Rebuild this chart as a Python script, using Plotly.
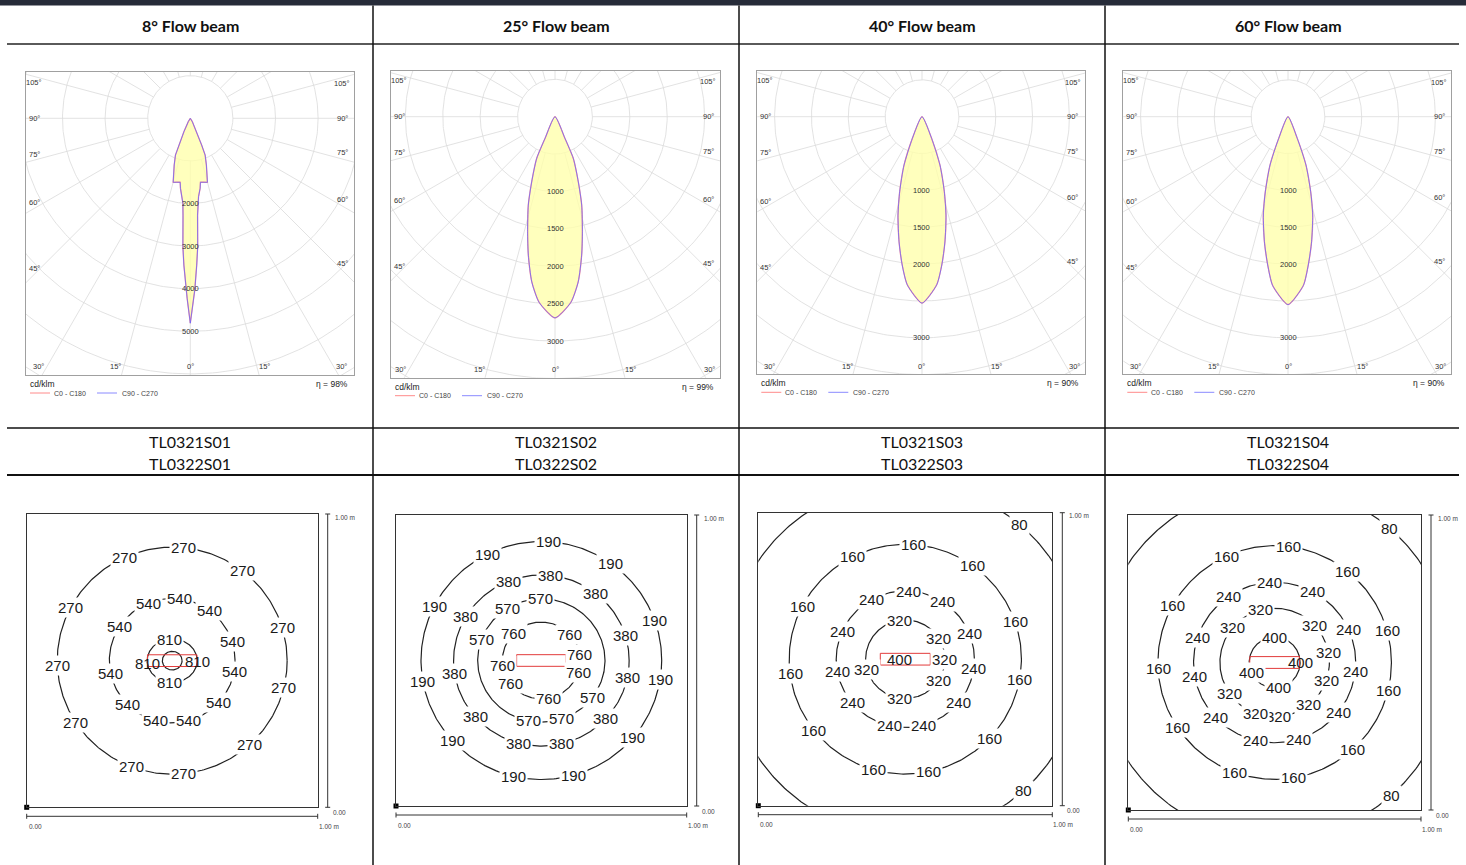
import numpy as np
import plotly.graph_objects as go

W, H = 1466, 865

# ---------------- data ----------------
HEADERS = ["8° Flow beam", "25° Flow beam", "40° Flow beam", "60° Flow beam"]
MODELS_TOP = ["TL0321S01", "TL0321S02", "TL0321S03", "TL0321S04"]
MODELS_BOTTOM = ["TL0322S01", "TL0322S02", "TL0322S03", "TL0322S04"]
ETA_TEXT = ["η = 98%", "η = 99%", "η = 90%", "η = 90%"]
UNIT_TEXT = "cd/klm"
LEGEND_C0 = "C0 - C180"
LEGEND_C90 = "C90 - C270"

# luminous intensity curves: gamma angle (deg) -> cd/klm (C0-C180 and C90-C270 identical)
GAMMA_1 = [0, 1, 1.5, 2.5, 3.3, 4.3, 5, 6, 8, 9, 12, 15, 19, 22, 23, 25.4, 31, 33]
CDKLM_1 = [4810, 4230, 4030, 3450, 3020, 2280, 2000, 1850, 1660, 1520, 1535, 1555, 1160, 930, 680, 346, 91, 0]
GAMMA_2 = [0, 4.9, 8, 10.9, 13.4, 16.8, 19.7, 23.7, 24.7, 25.5]
CDKLM_2 = [2690, 2490, 2230, 1885, 1580, 1235, 925, 610, 320, 0]
GAMMA_3 = [0, 5, 7.6, 10.4, 13.7, 16.6, 20.4, 24, 25.5]
CDKLM_3 = [2530, 2290, 2030, 1725, 1375, 1060, 700, 320, 0]
GAMMA_4 = [0, 5.2, 7.8, 10.7, 14.1, 16.8, 20.4, 23.2, 25]
CDKLM_4 = [2550, 2300, 2030, 1725, 1375, 1065, 700, 320, 0]
POLAR_GAMMA = [GAMMA_1, GAMMA_2, GAMMA_3, GAMMA_4]
POLAR_CD = [CDKLM_1, CDKLM_2, CDKLM_3, CDKLM_4]
RING_STEP = [1000, 500, 500, 500]
RING_LABELS = [[2000, 3000, 4000, 5000],
               [1000, 1500, 2000, 2500, 3000],
               [1000, 1500, 2000, 3000],
               [1000, 1500, 2000, 3000]]
SIDE_ANGLES = [105, 90, 75, 60, 45]
BOTTOM_ANGLES = [-30, -15, 0, 15, 30]

# isolux diagrams (1 m x 1 m): level, half-widths (m), label angles (deg)
ISO_LEVELS_1 = [270, 540, 810, 1080]
ISO_RX_1 = [0.395, 0.216, 0.086, 0.034]
ISO_RY_1 = [0.387, 0.212, 0.074, 0.032]
ISO_ANG_1 = [[114.5, 84.4, 52.4, 16.8, -13.5, -47.7, -84.4, -111, -147, -177.8, 151.8],
             [112, 83, 53.3, 17.7, -10.2, -42.4, -75.2, -105.7, -135.8, -168.2, 146.4],
             [96, -3, -171.5, -96],
             []]
ISO_LEVELS_2 = [190, 380, 570, 760]
ISO_RX_2 = [0.414, 0.302, 0.219, 0.134]
ISO_RY_2 = [0.409, 0.294, 0.212, 0.132]
ISO_ANG_2 = [[116.7, 86.6, 54.8, 19.6, -9.2, -40.6, -74.7, -103.5, -137.5, -169.8, 152.9],
             [112.3, 84.1, 51.6, 17.3, -11.2, -42.9, -76.6, -105.1, -138.9, -171.1, 149.2],
             [122.3, 91.2, 159.6, -37.2, -71.3, -101.8],
             [135.9, 43.5, 8.9, -18.5, -80.1, -143.4, -172.4]]
ISO_LEVELS_3 = [80, 160, 240, 320, 400]
ISO_RX_3 = [0.602, 0.395, 0.235, 0.135, 0.021]
ISO_RY_3 = [0.602, 0.392, 0.233, 0.134, 0.021]
ISO_ANG_3 = [[49.8, -48],
             [116.9, 86, 54.8, 19.1, -10.4, -43.6, -78.5, -106.1, -141.9, -173, 152.8],
             [119.6, 87.5, 57.7, 22.3, -7.7, -39.8, -74.9, -102.8, -140.4, -169.8, 156.1],
             [97.8, 32.3, -0.2, -32.3, -98, -165.3],
             [180]]
ISO_LEVELS_4 = [80, 160, 240, 320, 400]
ISO_RX_4 = [0.603, 0.399, 0.277, 0.187, 0.087]
ISO_RY_4 = [0.600, 0.396, 0.272, 0.184, 0.086]
ISO_ANG_4 = [[49.2, -48.5],
             [114.4, 83.3, 51.3, 15.7, -13.7, -48, -80.8, -110.3, -146.1, -177.2, 150.9],
             [125.1, 93.3, 62.4, 24.4, -6.5, -38.6, -73.2, -103.7, -137.2, -170.1, 161.7],
             [104.6, 139.6, 43.4, 10.4, -18.9, -51.3, -86.2, -110.2, -145],
             [90.7, 0.4, -156, -80.5]]
ISO_LEVELS = [ISO_LEVELS_1, ISO_LEVELS_2, ISO_LEVELS_3, ISO_LEVELS_4]
ISO_RX = [ISO_RX_1, ISO_RX_2, ISO_RX_3, ISO_RX_4]
ISO_RY = [ISO_RY_1, ISO_RY_2, ISO_RY_3, ISO_RY_4]
ISO_ANG = [ISO_ANG_1, ISO_ANG_2, ISO_ANG_3, ISO_ANG_4]
ISO_HIDDEN_RING = [(2, 4)]          # contour too small to be drawn (label only)
LUMINAIRE_W, LUMINAIRE_H = 0.17, 0.04
SCALE_START, SCALE_END = "0.00", "1.00 m"

# ---------------- layout (pixels) ----------------
COL_CENTERS = [190, 556, 922, 1288]
COL_LINES_X = [373, 739, 1105]
POLAR_BOX = [(26, 72, 354, 375), (391, 71, 720, 377.7), (757.3, 71, 1085, 374.3), (1123.3, 71, 1451, 374.3)]
POLAR_CENTER = [(190.3, 118.3), (555, 116.7), (922, 116.7), (1288, 116.7)]
POLAR_PX_PER_1000 = [42.6, 74.8, 73.7, 73.7]
ISO_BOX = [(26.7, 514, 317.7, 807.3), (396, 515, 686.7, 806), (758.3, 512.7, 1052.3, 805.7), (1128.3, 515, 1421, 810)]

FONT = "Liberation Sans, Arial, sans-serif"
HFONT = "Lato, Open Sans, sans-serif"


def px(xp):
    return xp / W


def py(yp):
    return 1 - yp / H


fig = go.Figure()
axes = {}
annotations = []
shapes = []


def axnames(k):
    s = '' if k == 1 else str(k)
    return 'x' + s, 'y' + s, 'xaxis' + s, 'yaxis' + s


def ann(**kw):
    base = dict(showarrow=False, xanchor='center', yanchor='middle')
    base.update(kw)
    annotations.append(base)


k = 0
# ---------- polar intensity diagrams ----------
for i in range(4):
    k += 1
    xr, yr, xa, ya = axnames(k)
    L, T, R, B = POLAR_BOX[i]
    cx, cy = POLAR_CENTER[i]
    s = POLAR_PX_PER_1000[i] / 1000.0
    x0, x1 = (L - cx) / s, (R - cx) / s
    y0, y1 = -(B - cy) / s, (cy - T) / s
    st = dict(showgrid=False, zeroline=False, showticklabels=False, ticks='', showline=True,
              mirror=True, linecolor='#a0a0a0', linewidth=1, fixedrange=True)
    axes[xa] = dict(domain=[px(L), px(R)], range=[x0, x1], anchor=yr, **st)
    axes[ya] = dict(domain=[py(B), py(T)], range=[y0, y1], anchor=xr, **st)

    step = RING_STEP[i]
    rmax = np.hypot(max(abs(x0), abs(x1)), max(abs(y0), abs(y1))) + step
    t = np.linspace(0, 2 * np.pi, 361)
    gx, gy = [], []
    for r in np.arange(step, rmax, step):
        gx += list(r * np.cos(t)) + [None]
        gy += list(r * np.sin(t)) + [None]
    for a in range(0, 360, 15):
        ar = np.radians(a)
        gx += [step * np.sin(ar), rmax * np.sin(ar), None]
        gy += [-step * np.cos(ar), -rmax * np.cos(ar), None]
    fig.add_trace(go.Scatter(x=gx, y=gy, mode='lines', line=dict(color='#dadada', width=0.8),
                             xaxis=xr, yaxis=yr, hoverinfo='skip', showlegend=False))

    g = np.array(POLAR_GAMMA[i], dtype=float)
    I = np.array(POLAR_CD[i], dtype=float)
    fg = np.concatenate([-g[::-1], g[1:]])
    fI = np.concatenate([I[::-1], I[1:]])
    cxs = fI * np.sin(np.radians(fg))
    cys = -fI * np.cos(np.radians(fg))
    shape = 'linear' if i == 0 else 'spline'
    fig.add_trace(go.Scatter(x=cxs, y=cys, mode='lines', fill='toself',
                             fillcolor='rgba(255,255,170,0.78)',
                             line=dict(color='#ff9a9a', width=1.3, shape=shape, smoothing=0.6),
                             xaxis=xr, yaxis=yr, hoverinfo='skip', showlegend=False))
    fig.add_trace(go.Scatter(x=cxs, y=cys, mode='lines',
                             line=dict(color='rgba(100,100,255,0.85)', width=0.9, shape=shape, smoothing=0.6),
                             xaxis=xr, yaxis=yr, hoverinfo='skip', showlegend=False))

    for v in RING_LABELS[i]:
        ann(x=0, y=-v, xref=xr, yref=yr, text=str(v), font=dict(family=FONT, size=7.5, color='#333'))

    inset_l = 8 / s
    inset_r = 12 / s
    for gam in SIDE_ANGLES:
        cot = np.cos(np.radians(gam)) / np.sin(np.radians(gam))
        ysh = 0 if gam == 90 else (-6 if gam > 90 else 6)
        xl = x0 + inset_l
        ann(x=xl, y=xl * cot, xref=xr, yref=yr, text=f"{gam}°", yshift=ysh,
            font=dict(family=FONT, size=7.5, color='#333'))
        xrt = x1 - inset_r
        ann(x=xrt, y=-xrt * cot, xref=xr, yref=yr, text=f"{gam}°", yshift=ysh,
            font=dict(family=FONT, size=7.5, color='#333'))
    yb = y0 + 8 / s
    for gam in BOTTOM_ANGLES:
        xb = -yb * np.tan(np.radians(gam))
        xsh = 0 if gam == 0 else (8 if gam > 0 else -8)
        ann(x=xb, y=yb, xref=xr, yref=yr, text=f"{abs(gam)}°", xshift=xsh,
            font=dict(family=FONT, size=7.5, color='#333'))

    # unit, efficiency, legend
    ann(x=px(L + 2), y=py(B + 9), xref='paper', yref='paper', xanchor='left', text=UNIT_TEXT,
        font=dict(family=FONT, size=8.5, color='#222'))
    ann(x=px(R - 4), y=py(B + 9), xref='paper', yref='paper', xanchor='right', text=ETA_TEXT[i],
        font=dict(family=FONT, size=8.5, color='#222'))
    ly = py(B + 18)
    shapes.append(dict(type='line', xref='paper', yref='paper', x0=px(L + 4), x1=px(L + 24), y0=ly, y1=ly,
                       line=dict(color='#ff8a8a', width=1)))
    ann(x=px(L + 26), y=ly, xref='paper', yref='paper', xanchor='left', text=LEGEND_C0,
        font=dict(family=FONT, size=7, color='#444'))
    shapes.append(dict(type='line', xref='paper', yref='paper', x0=px(L + 71), x1=px(L + 91), y0=ly, y1=ly,
                       line=dict(color='#8a8aff', width=1)))
    ann(x=px(L + 94), y=ly, xref='paper', yref='paper', xanchor='left', text=LEGEND_C90,
        font=dict(family=FONT, size=7, color='#444'))

# ---------- isolux diagrams ----------
for i in range(4):
    k += 1
    xr, yr, xa, ya = axnames(k)
    L, T, R, B = ISO_BOX[i]
    st = dict(showgrid=False, zeroline=False, showticklabels=False, ticks='', showline=True,
              mirror=True, linecolor='#333', linewidth=1.2, fixedrange=True)
    axes[xa] = dict(domain=[px(L), px(R)], range=[0, 1], anchor=yr, **st)
    axes[ya] = dict(domain=[py(B), py(T)], range=[0, 1], anchor=xr, **st)
    t = np.linspace(0, 2 * np.pi, 361)
    for j, lev in enumerate(ISO_LEVELS[i]):
        rx, ry = ISO_RX[i][j], ISO_RY[i][j]
        if (i, j) not in ISO_HIDDEN_RING:
            fig.add_trace(go.Scatter(x=0.5 + rx * np.cos(t), y=0.5 + ry * np.sin(t), mode='lines',
                                     line=dict(color='#222', width=1.2), xaxis=xr, yaxis=yr,
                                     hoverinfo='skip', showlegend=False))
        for a in ISO_ANG[i][j]:
            lx = 0.5 + rx * np.cos(np.radians(a))
            lyv = 0.5 + ry * np.sin(np.radians(a))
            inside = abs(lx - 0.5) <= LUMINAIRE_W / 2 + 0.01 and abs(lyv - 0.5) <= LUMINAIRE_H / 2 + 0.01
            ann(x=lx, y=lyv, xref=xr, yref=yr, text=str(lev),
                bgcolor='rgba(0,0,0,0)' if inside else 'white', borderpad=1,
                font=dict(family=FONT, size=15, color='#1a1a1a'))
    shapes.append(dict(type='rect', xref=xr, yref=yr, x0=0.5 - LUMINAIRE_W / 2, x1=0.5 + LUMINAIRE_W / 2,
                       y0=0.5 - LUMINAIRE_H / 2, y1=0.5 + LUMINAIRE_H / 2,
                       line=dict(color='#e23b3b', width=1)))
    fig.add_trace(go.Scatter(x=[0], y=[0], mode='markers', marker=dict(symbol='square', size=5, color='black'),
                             xaxis=xr, yaxis=yr, cliponaxis=False, hoverinfo='skip', showlegend=False))
    # scale bars
    bx = R + 10
    shapes.append(dict(type='line', xref='paper', yref='paper', x0=px(bx), x1=px(bx), y0=py(B), y1=py(T),
                       line=dict(color='#333', width=1)))
    for yy in (T, B):
        shapes.append(dict(type='line', xref='paper', yref='paper', x0=px(bx - 2.5), x1=px(bx + 2.5),
                           y0=py(yy), y1=py(yy), line=dict(color='#333', width=1)))
    by = B + 9
    shapes.append(dict(type='line', xref='paper', yref='paper', x0=px(L), x1=px(R), y0=py(by), y1=py(by),
                       line=dict(color='#333', width=1)))
    for xx in (L, R):
        shapes.append(dict(type='line', xref='paper', yref='paper', x0=px(xx), x1=px(xx),
                           y0=py(by - 2.5), y1=py(by + 2.5), line=dict(color='#333', width=1)))
    sf = dict(family=FONT, size=6.5, color='#444')
    ann(x=px(bx + 5), y=py(T + 3), xref='paper', yref='paper', xanchor='left', text=SCALE_END, font=sf)
    ann(x=px(bx + 3), y=py(B + 5), xref='paper', yref='paper', xanchor='left', text=SCALE_START, font=sf)
    ann(x=px(L), y=py(by + 10), xref='paper', yref='paper', xanchor='left', text=SCALE_START, font=sf)
    ann(x=px(R + 11), y=py(by + 10), xref='paper', yref='paper', xanchor='center', text=SCALE_END, font=sf)

# ---------- table ----------
shapes.append(dict(type='rect', xref='paper', yref='paper', x0=0, x1=1, y0=py(5.5), y1=1,
                   fillcolor='#262b38', line=dict(width=0)))
shapes.append(dict(type='line', xref='paper', yref='paper', x0=px(7), x1=px(1459), y0=py(44), y1=py(44),
                   line=dict(color='#5a5a5a', width=2)))
shapes.append(dict(type='line', xref='paper', yref='paper', x0=px(7), x1=px(1459), y0=py(428), y1=py(428),
                   line=dict(color='#111', width=1.5)))
shapes.append(dict(type='line', xref='paper', yref='paper', x0=px(7), x1=px(1459), y0=py(475), y1=py(475),
                   line=dict(color='#111', width=2)))
for xl in COL_LINES_X:
    shapes.append(dict(type='line', xref='paper', yref='paper', x0=px(xl), x1=px(xl), y0=0, y1=py(5.5),
                       line=dict(color='#111', width=1.5)))
for i in range(4):
    ann(x=px(COL_CENTERS[i]), y=py(25), xref='paper', yref='paper', text=f"<b>{HEADERS[i]}</b>",
        font=dict(family=HFONT, size=16, color='#111'))
    ann(x=px(COL_CENTERS[i]), y=py(441), xref='paper', yref='paper', text=MODELS_TOP[i],
        font=dict(family=HFONT, size=16, color='#111'))
    ann(x=px(COL_CENTERS[i]), y=py(463), xref='paper', yref='paper', text=MODELS_BOTTOM[i],
        font=dict(family=HFONT, size=16, color='#111'))

fig.update_layout(width=W, height=H, margin=dict(l=0, r=0, t=0, b=0), paper_bgcolor='white',
                  plot_bgcolor='white', showlegend=False, annotations=annotations, shapes=shapes,
                  **axes)
fig.write_html("out.html", config={'displayModeBar': False},
               post_script="document.body.style.margin='0px';document.body.style.overflow='hidden';")
